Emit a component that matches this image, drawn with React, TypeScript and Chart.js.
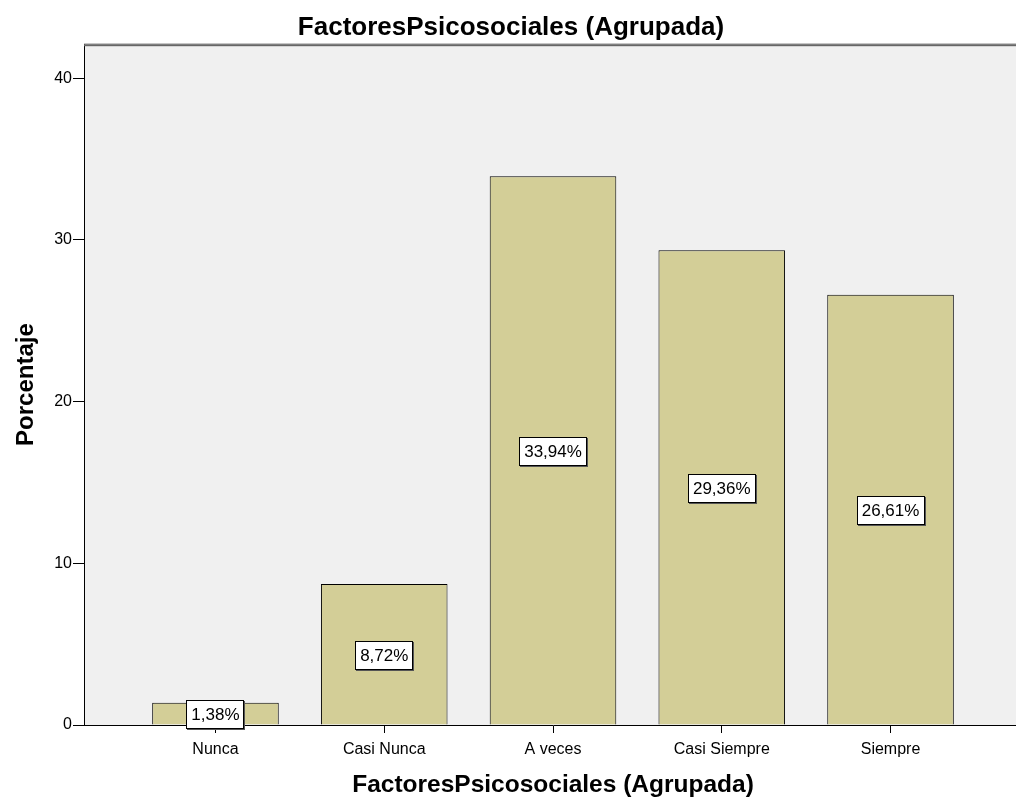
import React, { useEffect, useRef } from 'react';
import { Chart, registerables } from 'chart.js';

Chart.register(...registerables);

const categories = ['Nunca', 'Casi Nunca', 'A veces', 'Casi Siempre', 'Siempre'];
const percentages = [1.38, 8.72, 33.94, 29.36, 26.61];
const yTickValues = [0, 10, 20, 30, 40];
const chartTitle = 'FactoresPsicosociales (Agrupada)';
const xAxisTitle = 'FactoresPsicosociales (Agrupada)';
const yAxisTitle = 'Porcentaje';

const FONT = 'Arial, "Liberation Sans", sans-serif';

const formatPct = (v: number) => v.toFixed(2).replace('.', ',') + '%';

const plotBgPlugin = {
  id: 'plotBg',
  beforeDraw(chart: any) {
    const { ctx, chartArea: a } = chart;
    ctx.save();
    ctx.fillStyle = '#F0F0F0';
    ctx.fillRect(a.left, a.top, a.right - a.left, a.bottom - a.top);
    ctx.restore();
  },
  afterDraw(chart: any) {
    const { ctx, chartArea: a } = chart;
    ctx.save();
    ctx.fillStyle = '#b8b8b8';
    ctx.fillRect(a.left, a.top - 1, a.right - a.left, 1);
    ctx.fillStyle = '#666666';
    ctx.fillRect(a.left, a.top, a.right - a.left, 2);
    ctx.restore();
  },
};

const barLabelPlugin = {
  id: 'barLabels',
  afterDraw(chart: any) {
    const { ctx } = chart;
    const meta = chart.getDatasetMeta(0);
    ctx.save();
    ctx.font = `17px ${FONT}`;
    ctx.textAlign = 'center';
    ctx.textBaseline = 'middle';
    meta.data.forEach((bar: any, i: number) => {
      const { x, y, base } = bar.getProps(['x', 'y', 'base'], true);
      const cy = (y + base) / 2 + 1;
      const text = formatPct(percentages[i]);
      const w = Math.round(ctx.measureText(text).width + 10);
      const h = 29;
      const left = Math.round(x - w / 2);
      const top = Math.round(cy - h / 2);
      ctx.fillStyle = '#555555';
      ctx.fillRect(left + 1, top + 1, w, h);
      ctx.fillStyle = '#ffffff';
      ctx.fillRect(left, top, w, h);
      ctx.strokeStyle = '#000000';
      ctx.lineWidth = 1;
      ctx.strokeRect(left + 0.5, top + 0.5, w - 1, h - 1);
      ctx.fillStyle = '#000000';
      ctx.fillText(text, x, cy + 1);
    });
    ctx.restore();
  },
};

export default function App() {
  const canvasRef = useRef<HTMLCanvasElement | null>(null);

  useEffect(() => {
    document.body.style.margin = '0';
    document.body.style.overflow = 'hidden';
    const canvas = canvasRef.current;
    if (!canvas) return;
    const chart = new Chart(canvas, {
      type: 'bar',
      data: {
        datasets: [
          {
            data: percentages.map((v, i) => ({ x: i, y: v })),
            backgroundColor: '#D3CE97',
            borderColor: '#000000',
            borderWidth: 1,
            borderSkipped: 'bottom',
            barPercentage: 0.75,
            categoryPercentage: 1,
          },
        ],
      },
      options: {
        animation: false,
        responsive: false,
        devicePixelRatio: 1,
        layout: { padding: 0 },
        plugins: {
          legend: { display: false },
          tooltip: { enabled: false },
          title: {
            display: true,
            text: chartTitle,
            color: '#000',
            font: { family: FONT, size: 26, weight: 'bold' },
            padding: { top: 12, bottom: 1 },
          },
        },
        scales: {
          x: {
            type: 'linear',
            min: -0.779,
            max: 4.779,
            offset: false,
            afterBuildTicks: (scale: any) => {
              scale.ticks = categories.map((_, i) => ({ value: i }));
            },
            afterFit: (scale: any) => {
              scale.height = 81;
            },
            grid: {
              display: true,
              offset: false,
              drawOnChartArea: false,
              drawTicks: true,
              tickLength: 8,
              tickColor: '#000',
              color: '#000',
            },
            border: { display: true, color: '#000', width: 1 },
            ticks: {
              autoSkip: false,
              maxRotation: 0,
              padding: 7,
              color: '#000',
              font: { family: FONT, size: 16 },
              callback: (v: any) => categories[v] ?? '',
            },
            title: {
              display: true,
              text: xAxisTitle,
              color: '#000',
              font: { family: FONT, size: 24.5, weight: 'bold' },
              padding: { top: 0, bottom: 6 },
            },
          },
          y: {
            type: 'linear',
            min: 0,
            max: 42.1,
            afterBuildTicks: (scale: any) => {
              scale.ticks = yTickValues.map((v) => ({ value: v }));
            },
            afterFit: (scale: any) => {
              scale.width = 84;
            },
            grid: {
              display: true,
              offset: false,
              drawOnChartArea: false,
              drawTicks: true,
              tickLength: 11,
              tickColor: '#000',
              color: '#000',
            },
            border: { display: true, color: '#000', width: 1 },
            ticks: {
              padding: 1,
              color: '#000',
              font: { family: FONT, size: 16 },
            },
            title: {
              display: true,
              text: yAxisTitle,
              color: '#000',
              font: { family: FONT, size: 24, weight: 'bold' },
              padding: { top: 12, bottom: 0 },
            },
          },
        },
      },
      plugins: [plotBgPlugin, barLabelPlugin],
    } as any);
    return () => chart.destroy();
  }, []);

  return (
    <div style={{ width: 1016, height: 806, overflow: 'hidden', background: '#fff' }}>
      <canvas ref={canvasRef} width={1022} height={806} style={{ display: 'block' }} />
    </div>
  );
}
